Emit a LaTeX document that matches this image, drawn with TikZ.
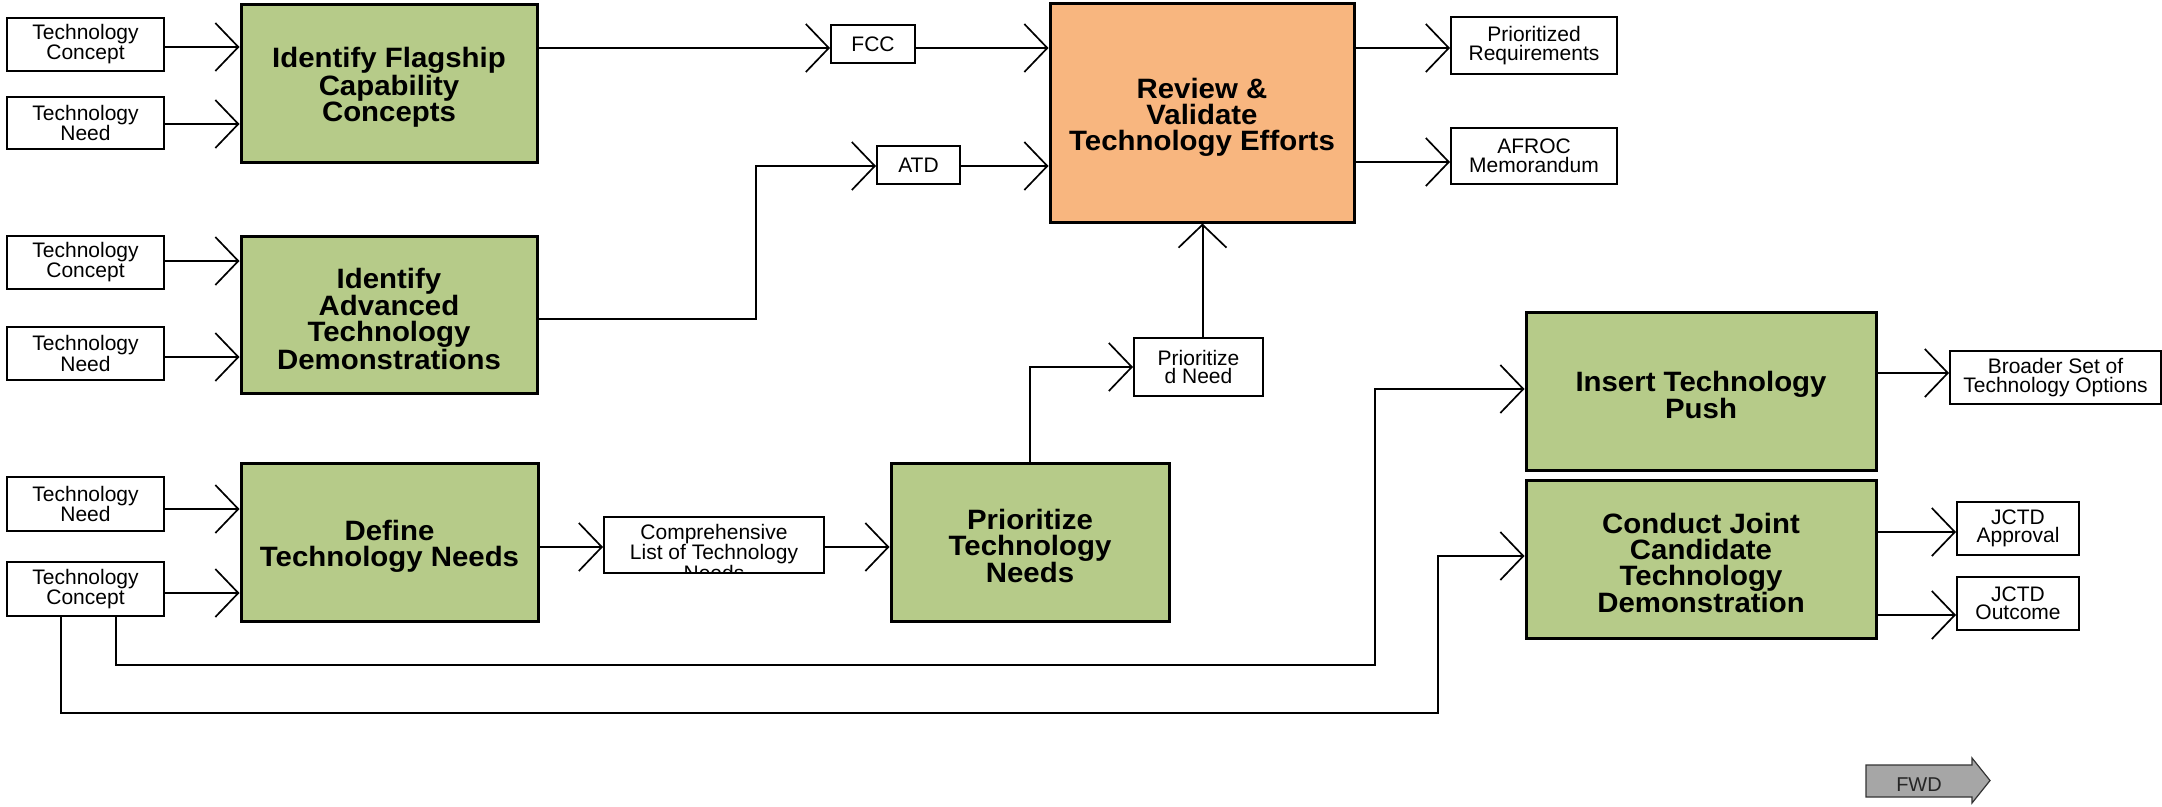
\documentclass[tikz,border=0pt]{standalone}
\usepackage{fontspec}
\setmainfont{Liberation Sans}
\newfontfamily\bigfam[FakeStretch=1.05]{Liberation Sans}
\usetikzlibrary{arrows.meta}
\definecolor{boxgreen}{RGB}{182,203,137}
\definecolor{boxorange}{RGB}{248,182,127}
\definecolor{fwdgray}{RGB}{166,166,166}
\newcommand{\toppad}{\rule{0pt}{29pt}}
\begin{document}
\begin{tikzpicture}[x=1pt,y=-1pt,
  bigbox/.style={draw=black, line width=3pt, fill=boxgreen, align=center, inner sep=0pt,
    font=\bigfam\bfseries\fontsize{28}{26}\selectfont},
  revbox/.style={bigbox, fill=boxorange},
  smallbox/.style={draw=black, line width=2pt, fill=white, align=center, inner sep=0pt,
    font=\fontsize{21}{18.5}\selectfont},
  conn/.style={line width=2pt, -{Straight Barb[length=23pt,width=48pt,line width=1.7pt]}}
]
\fill[white] (0,0) rectangle (2162,806);
\useasboundingbox (0,0) rectangle (2162,806);

% left input boxes
\node[smallbox, minimum width=157pt, minimum height=53pt] (tc1) at (85.5,44.5) {Technology\\Concept};
\node[smallbox, minimum width=157pt, minimum height=52pt] (tn1) at (85.5,123) {Technology\\Need};
\node[smallbox, minimum width=157pt, minimum height=53pt] (tc2) at (85.5,262.5) {Technology\\Concept};
\node[smallbox, minimum width=157pt, minimum height=53pt] (tn2) at (85.5,353.5) {Technology\\Need};
\node[smallbox, minimum width=157pt, minimum height=54pt] (tn3) at (85.5,504) {Technology\\Need};
\node[smallbox, minimum width=157pt, minimum height=54pt] (tc3) at (85.5,589) {Technology\\Concept};

% process boxes
\node[bigbox, minimum width=296pt, minimum height=158pt] (flag) at (389,83) {\toppad Identify Flagship\\Capability\\Concepts};
\node[bigbox, minimum width=296pt, minimum height=157pt] (adv) at (389,314.5) {\toppad Identify\\Advanced\\Technology\\Demonstrations};
\node[bigbox, minimum width=297pt, minimum height=158pt] (def) at (389.5,542) {\toppad Define\\Technology Needs};
\node[bigbox, minimum width=278pt, minimum height=158pt] (prio) at (1030,542) {\toppad Prioritize\\Technology\\Needs};
\node[bigbox, minimum width=350pt, minimum height=158pt] (ins) at (1701,391) {\toppad Insert Technology\\Push};
\node[bigbox, minimum width=350pt, minimum height=158pt] (cond) at (1701,559) {\toppad Conduct Joint\\Candidate\\Technology\\Demonstration};
\node[revbox, minimum width=304pt, minimum height=219pt] (review) at (1202,112.5) {\toppad Review \&\\Validate\\Technology Efforts};

% intermediate / output boxes
\node[smallbox, minimum width=84pt, minimum height=38pt] (fcc) at (873,44) {FCC};
\node[smallbox, minimum width=83pt, minimum height=38pt] (atd) at (918.5,165) {ATD};
\node[smallbox, minimum width=166pt, minimum height=57pt] (pr) at (1534,45.5) {Prioritized\\Requirements};
\node[smallbox, minimum width=166pt, minimum height=56pt] (afroc) at (1534,156) {AFROC\\Memorandum};
\node[smallbox, minimum width=220pt, minimum height=56pt,
  path picture={\node[anchor=north, align=center, inner sep=0pt, font=\fontsize{21}{19.3}\selectfont]
    at ([yshift=-6pt]path picture bounding box.north) {Comprehensive\\List of Technology\\Needs};}]
  (comp) at (714,545) {};
\node[smallbox, minimum width=129pt, minimum height=58pt] (pneed) at (1198.5,367) {Prioritize\\d Need};
\node[smallbox, minimum width=211pt, minimum height=53pt] (broad) at (2055.5,377.5) {Broader Set of\\Technology Options};
\node[smallbox, minimum width=122pt, minimum height=53pt] (jappr) at (2018,528.5) {JCTD\\Approval};
\node[smallbox, minimum width=122pt, minimum height=53pt] (jout) at (2018,603.5) {JCTD\\Outcome};

% connectors
\draw[conn] (tc1.east |- 0,47) -- (flag.west |- 0,47);
\draw[conn] (tn1.east |- 0,124) -- (flag.west |- 0,124);
\draw[conn] (tc2.east |- 0,261) -- (adv.west |- 0,261);
\draw[conn] (tn2.east |- 0,357) -- (adv.west |- 0,357);
\draw[conn] (tn3.east |- 0,509) -- (def.west |- 0,509);
\draw[conn] (tc3.east |- 0,593) -- (def.west |- 0,593);

\draw[conn] (flag.east |- 0,48) -- (fcc.west |- 0,48);
\draw[conn] (fcc.east |- 0,48) -- (review.west |- 0,48);
\draw[conn] (adv.east |- 0,319) -- (756,319) -- (756,166) -- (atd.west |- 0,166);
\draw[conn] (atd.east |- 0,166) -- (review.west |- 0,166);

\draw[conn] (def.east |- 0,547) -- (comp.west |- 0,547);
\draw[conn] (comp.east |- 0,547) -- (prio.west |- 0,547);
\draw[conn] (prio.north) |- (pneed.west);
\draw[conn] ([xshift=4pt]pneed.north) -- ([xshift=4pt]pneed.north |- review.south);

\draw[conn] (review.east |- 0,48) -- (pr.west |- 0,48);
\draw[conn] (review.east |- 0,162) -- (afroc.west |- 0,162);

\draw[conn] (tc3.south -| 116,0) |- (1375,665) |- (ins.west |- 0,389);
\draw[conn] (tc3.south -| 61,0) |- (1438,713) |- (cond.west |- 0,556);

\draw[conn] (ins.east |- 0,373) -- (broad.west |- 0,373);
\draw[conn] (cond.east |- 0,532) -- (jappr.west |- 0,532);
\draw[conn] (cond.east |- 0,615) -- (jout.west |- 0,615);

% FWD arrow
\filldraw[fill=fwdgray, draw=black!80, line width=1.2pt]
  (1866,765) -- (1972,765) -- (1972,758) -- (1990,780.5) -- (1972,803) -- (1972,797) -- (1866,797) -- cycle;
\node[font=\fontsize{20}{20}\selectfont, text=black!85, inner sep=0pt] (fwd) at (1919,784.5) {FWD};
\end{tikzpicture}
\end{document}
